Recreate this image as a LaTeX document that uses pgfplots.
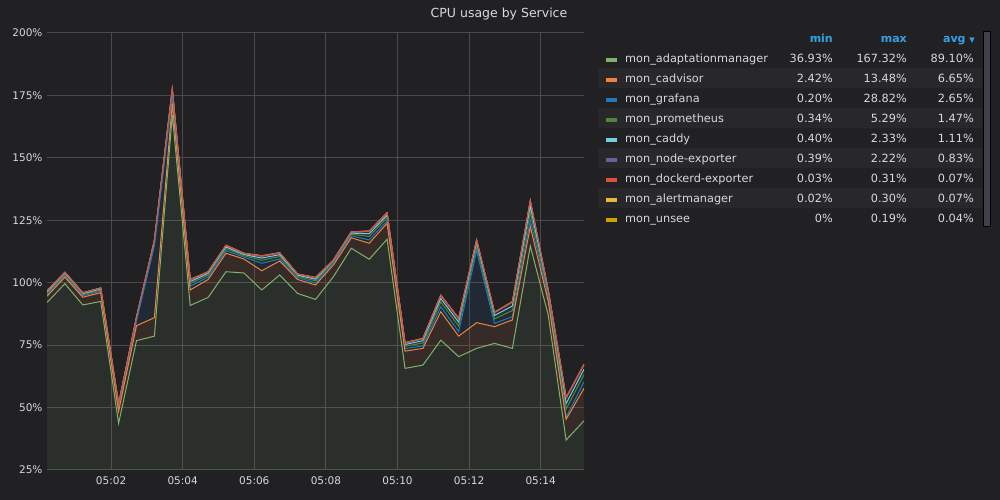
\documentclass[border=0pt]{standalone}
\usepackage{pgfplots}
\pgfplotsset{compat=1.18}
\usepackage{pgfplotstable}
\usepackage{fontspec}
\setmainfont{DejaVu Sans}
\definecolor{bgc}{HTML}{212124}
\definecolor{bandc}{HTML}{28282B}
\definecolor{gridc}{HTML}{4A4A4A}
\definecolor{tc}{HTML}{D8D9DA}
\definecolor{hc}{HTML}{33A2E5}
\definecolor{cA}{HTML}{7EB26D}
\definecolor{cB}{HTML}{EF843C}
\definecolor{cC}{HTML}{1F78C1}
\definecolor{cD}{HTML}{508642}
\definecolor{cE}{HTML}{6ED0E0}
\definecolor{cF}{HTML}{705DA0}
\definecolor{cG}{HTML}{E24D42}
\definecolor{cH}{HTML}{EAB839}
\definecolor{cI}{HTML}{CCA300}

\pgfplotstableread{
t A cad graf prom caddy node dock alert unsee
0.21 92.1 2.5 0.6 0.60 0.45 0.37 0.07 0.06 0.04
0.71 99.6 2.6 0.5 0.55 0.42 0.35 0.06 0.07 0.05
1.21 91.1 3.1 0.6 0.43 0.33 0.26 0.07 0.06 0.04
1.71 92.5 3.5 0.6 0.47 0.36 0.29 0.06 0.07 0.05
2.21 43.7 4.8 1.0 0.76 0.58 0.48 0.07 0.06 0.05
2.71 76.8 6.0 2.0 0.51 0.39 0.32 0.06 0.07 0.04
3.21 78.6 7.4 28.8 0.85 0.65 0.52 0.07 0.06 0.05
3.71 167.3 4.5 3.0 1.06 0.81 0.65 0.07 0.07 0.04
4.21 90.9 6.2 1.5 1.06 0.81 0.65 0.06 0.07 0.05
4.71 94.1 7.2 1.0 0.81 0.61 0.50 0.07 0.06 0.04
5.21 104.4 7.4 1.0 0.85 0.65 0.52 0.08 0.06 0.04
5.71 103.9 5.6 0.8 0.55 0.42 0.35 0.06 0.07 0.05
6.21 97.1 7.7 3.0 1.18 0.90 0.74 0.07 0.07 0.04
6.71 103.1 5.6 0.8 0.97 0.74 0.61 0.07 0.06 0.05
7.21 95.7 5.6 0.8 0.51 0.39 0.32 0.06 0.07 0.04
7.71 93.3 5.8 0.8 0.85 0.65 0.52 0.07 0.07 0.05
8.21 102.4 4.7 0.8 0.43 0.33 0.26 0.07 0.06 0.04
8.71 113.8 4.2 0.8 0.60 0.45 0.37 0.06 0.07 0.04
9.21 109.4 6.4 1.3 1.44 1.09 0.89 0.07 0.06 0.05
9.71 117.4 6.4 1.0 1.27 0.97 0.78 0.08 0.07 0.04
10.21 65.7 6.9 1.0 0.93 0.71 0.58 0.07 0.06 0.05
10.71 67.0 6.7 1.0 1.18 0.90 0.74 0.07 0.07 0.04
11.21 77.0 11.4 2.0 1.86 1.41 1.15 0.07 0.06 0.05
11.71 70.4 8.2 1.8 2.15 1.64 1.33 0.07 0.07 0.04
12.21 73.7 10.3 28.8 1.73 1.32 1.07 0.08 0.06 0.04
12.71 75.7 6.7 1.3 1.81 1.38 1.13 0.07 0.07 0.05
13.21 73.7 11.4 1.3 2.44 1.86 1.52 0.07 0.06 0.04
13.71 114.7 7.7 2.7 3.16 2.33 2.03 0.07 0.07 0.04
14.21 87.1 5.5 1.5 1.18 0.90 0.74 0.07 0.06 0.05
14.71 37.0 8.3 0.8 3.30 2.20 2.22 0.07 0.07 0.04
15.21 44.7 13.0 2.6 2.86 2.18 1.78 0.07 0.06 0.05
}\data

\pgfplotsset{
  base/.style={
    at={(47pt,30pt)}, anchor=south west,
    scale only axis, width=537pt, height=437pt,
    xmin=0.21, xmax=15.21, ymin=25, ymax=200,
    stack plots=y,
    axis line style={draw=none},
    major tick length=0pt,
  }
}

\begin{document}
\begin{tikzpicture}[x=1pt,y=1pt]
\fill[bgc] (0,0) rectangle (1000,500);
\useasboundingbox (0,0) rectangle (1000,500);

% fills
\begin{axis}[base,
  xtick={2,4,6,8,10,12,14},
  xticklabels={05:02,05:04,05:06,05:08,05:10,05:12,05:14},
  ytick={25,50,75,100,125,150,175,200},
  yticklabels={25\%,50\%,75\%,100\%,125\%,150\%,175\%,200\%},
  grid=major,
  major grid style={draw=gridc, line width=1pt},
  tick label style={font=\fontsize{10.5}{12}\selectfont, text=tc},
  yticklabel style={xshift=-1pt},
  xticklabel style={yshift=-3pt},
]
\addplot[draw=none, fill=cA, fill opacity=0.1] table[x=t,y=A]{\data} \closedcycle;
\addplot[draw=none, fill=cB, fill opacity=0.1] table[x=t,y=cad]{\data} \closedcycle;
\addplot[draw=none, fill=cC, fill opacity=0.1] table[x=t,y=graf]{\data} \closedcycle;
\addplot[draw=none, fill=cD, fill opacity=0.1] table[x=t,y=prom]{\data} \closedcycle;
\addplot[draw=none, fill=cE, fill opacity=0.1] table[x=t,y=caddy]{\data} \closedcycle;
\addplot[draw=none, fill=cF, fill opacity=0.1] table[x=t,y=node]{\data} \closedcycle;
\addplot[draw=none, fill=cG, fill opacity=0.1] table[x=t,y=dock]{\data} \closedcycle;
\addplot[draw=none, fill=cH, fill opacity=0.1] table[x=t,y=alert]{\data} \closedcycle;
\addplot[draw=none, fill=cI, fill opacity=0.1] table[x=t,y=unsee]{\data} \closedcycle;
\end{axis}

% lines
\begin{axis}[base, xtick=\empty, ytick=\empty]
\addplot[cA, line width=1pt] table[x=t,y=A]{\data};
\addplot[cB, line width=1pt] table[x=t,y=cad]{\data};
\addplot[cC, line width=1pt] table[x=t,y=graf]{\data};
\addplot[cD, line width=1pt] table[x=t,y=prom]{\data};
\addplot[cE, line width=1pt] table[x=t,y=caddy]{\data};
\addplot[cF, line width=1pt] table[x=t,y=node]{\data};
\addplot[cG, line width=1pt] table[x=t,y=dock]{\data};
\addplot[cH, line width=1pt] table[x=t,y=alert]{\data};
\addplot[cI, line width=1pt] table[x=t,y=unsee]{\data};
\end{axis}

% red dockerd line redrawn on top (stacked on invisible series)
\begin{axis}[base, xtick=\empty, ytick=\empty]
\addplot[draw=none] table[x=t,y=A]{\data};
\addplot[draw=none] table[x=t,y=cad]{\data};
\addplot[draw=none] table[x=t,y=graf]{\data};
\addplot[draw=none] table[x=t,y=prom]{\data};
\addplot[draw=none] table[x=t,y=caddy]{\data};
\addplot[draw=none] table[x=t,y=node]{\data};
\addplot[cG, line width=1pt, draw opacity=0.85] table[x=t,y=dock]{\data};
\end{axis}

% title
\node[text=tc, font=\fontsize{12.5}{14}\selectfont] at (499,486) {CPU usage by Service};

% legend bands
\fill[bandc] (598,412) rectangle (982,432);
\fill[bandc] (598,372) rectangle (982,392);
\fill[bandc] (598,332) rectangle (982,352);
\fill[bandc] (598,292) rectangle (982,312);
% scrollbar
\filldraw[fill={rgb,255:red,65;green,65;blue,78}, draw=black, line width=1pt] (983,273) rectangle (990,468);

\begin{scope}[every node/.style={font=\fontsize{11.3}{13}\selectfont, text=tc, inner sep=0pt}]
\node[anchor=base east, text=hc, font=\fontsize{11}{13}\selectfont\bfseries] at (833,457) {min};
\node[anchor=base east, text=hc, font=\fontsize{11}{13}\selectfont\bfseries] at (907,457) {max};
\node[anchor=base east, text=hc, font=\fontsize{11}{13}\selectfont\bfseries] at (975,457) {avg \fontsize{7}{8}\selectfont▼};

\foreach \k/\c/\n/\mn/\mx/\av in {
 0/cA/mon\_adaptationmanager/36.93\%/167.32\%/89.10\%,
 1/cB/mon\_cadvisor/2.42\%/13.48\%/6.65\%,
 2/cC/mon\_grafana/0.20\%/28.82\%/2.65\%,
 3/cD/mon\_prometheus/0.34\%/5.29\%/1.47\%,
 4/cE/mon\_caddy/0.40\%/2.33\%/1.11\%,
 5/cF/mon\_node-exporter/0.39\%/2.22\%/0.83\%,
 6/cG/mon\_dockerd-exporter/0.03\%/0.31\%/0.07\%,
 7/cH/mon\_alertmanager/0.02\%/0.30\%/0.07\%,
 8/cI/mon\_unsee/0\%/0.19\%/0.04\%}{
  \pgfmathsetmacro{\yy}{442-20*\k}
  \fill[\c] (606,\yy-4) rectangle (617,\yy-0.5);
  \node[anchor=base west] at (625,\yy-4.5) {\n};
  \node[anchor=base east] at (833,\yy-4.5) {\mn};
  \node[anchor=base east] at (907,\yy-4.5) {\mx};
  \node[anchor=base east] at (974,\yy-4.5) {\av};
}
\end{scope}
\end{tikzpicture}
\end{document}
